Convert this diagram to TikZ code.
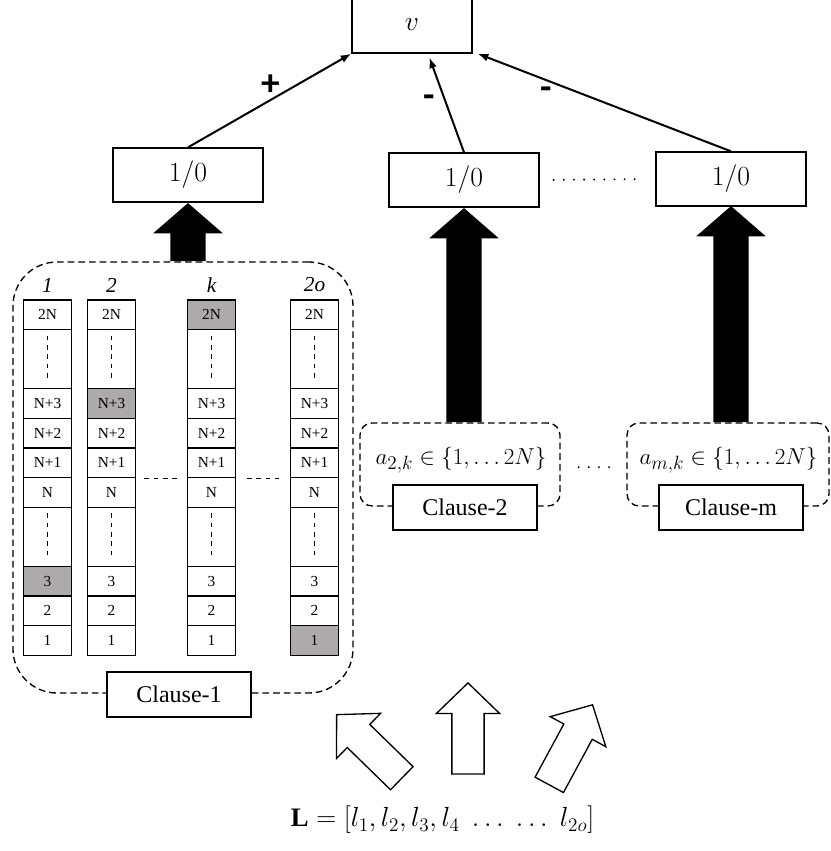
\documentclass[tikz,border=0pt]{standalone}
\usepackage{fontspec}
\setmainfont{Liberation Serif}
\newfontfamily\signfont{Carlito}
\usetikzlibrary{arrows.meta,positioning,shapes.arrows}
\definecolor{cellgray}{RGB}{174,170,170}

\begin{document}
\begin{tikzpicture}[
  x=0.75pt, y=-0.75pt,
  >={Latex[length=8pt,width=6pt]},
  box/.style={draw, line width=1pt, fill=white, minimum width=112.5pt, minimum height=40.5pt, inner sep=0pt, font=\fontsize{20}{24}\selectfont},
  tag/.style={draw, line width=1pt, fill=white, minimum width=108pt, minimum height=33.75pt, inner sep=0pt, font=\fontsize{18}{22}\selectfont},
  cell/.style={draw, line width=0.8pt, minimum width=36.4pt, minimum height=22.2pt, inner sep=0pt, font=\fontsize{11.5}{13}\selectfont},
  hdr/.style={font=\fontsize{16}{19}\selectfont\itshape, inner sep=0pt},
  group/.style={draw, line width=1pt, rounded corners=9pt, dash pattern=on 5pt off 3pt},
  fat/.style={single arrow, fill=black, inner sep=0pt, inner ysep=13.1pt, single arrow head extend=12.75pt, single arrow tip angle=98},
  hollow/.style={single arrow, draw, line width=1pt, fill=white, inner sep=0pt, inner ysep=11.6pt, minimum height=68.25pt, single arrow head extend=11.6pt, single arrow tip angle=92},
  sign/.style={font=\signfont\bfseries\fontsize{28}{32}\selectfont, inner sep=0pt},
  mathlbl/.style={font=\fontsize{19}{23}\selectfont, inner sep=0pt},
  link/.style={->, line width=1.5pt},
  celldash/.style={line width=0.8pt, dash pattern=on 3.5pt off 3.5pt},
  dotrow/.style={line width=1.6pt, line cap=round, dash pattern=on 0pt off 7.6pt},
  thin]

\useasboundingbox (0,0) rectangle (831,851);

\node[box, minimum width=90pt, minimum height=42pt] (v) at (412,25) {$v$};
\node[box] (out1) at (188,175) {$1/0$};
\node[box] (out2) at (464,180) {$1/0$};
\node[box] (outm) at (731,179) {$1/0$};

\draw[dotrow, shorten <=10.5pt, shorten >=10.5pt] (out2.east) -- (outm.west);

\draw[link] (out1.north) -- node[sign, midway, shift={(1,-15)}] {+} (v.south west);
\draw[link, shorten >=3pt] (out2.north) -- node[sign, pos=0.52, shift={(-16,0)}] {-} ([xshift=12pt]v.south);
\draw[link] (outm.north) -- node[sign, pos=0.73, shift={(0,13)}] {-} ([xshift=3.75pt]v.south east);

% Clause-1: columns of literal values
\node[group, rounded corners=33pt, minimum width=255pt, minimum height=323.25pt] (grp1) at (183,477.5) {};

\foreach \c/\x/\g/\h in {a/47.5/8/1, b/111.5/3/2, k/211.5/1/k, o/314.5/10/2o}{
  \node[hdr] (hdr-\c) at (\x,285) {\h};
  \foreach \r/\t/\n/\m in {1/2N/1/0.5, 2//2/2, 3/N+3/1/3.5, 4/N+2/1/4.5, 5/N+1/1/5.5, 6/N/1/6.5, 7//2/8, 8/3/1/9.5, 9/2/1/10.5, 10/1/1/11.5}{
    \ifnum\r=\g \def\cellfill{cellgray}\else\def\cellfill{white}\fi
    \node[cell, fill=\cellfill, minimum height=\n*22.2pt] (c-\c-\r) at (\x,300+\m*29.6) {\t};
  }
  \foreach \r in {2,7}
    \draw[celldash, shorten <=5pt, shorten >=6pt] (c-\c-\r.north) -- (c-\c-\r.south);
}

\draw[celldash, shorten <=6pt, shorten >=7.5pt] (c-b-5.south east) -- (c-k-5.south west);
\draw[celldash, shorten <=8pt, shorten >=8pt] (c-k-5.south east) -- (c-o-5.south west);

\node[tag] (cl1) at (179,694.5) {Clause-1};

% Clause-2 ... Clause-m
\node[group, minimum width=150pt, minimum height=62.25pt] (grp2) at (460,464.5) {};
\node[mathlbl] (a2) at (461,460) {$a_{2,k}\in\{1,\ldots 2N\}$};
\node[tag] (cl2) at (465,507.5) {Clause-2};

\node[group, minimum width=151.5pt, minimum height=62.25pt] (grpm) at (728,464.5) {};
\node[mathlbl] (am) at (728.5,460) {$a_{m,k}\in\{1,\ldots 2N\}$};
\node[tag] (clm) at (731,507.5) {Clause-m};

\draw[dotrow, shorten <=13.5pt, shorten >=12pt] ([yshift=-2pt]grp2.east) -- ([yshift=-2pt]grpm.west);

% fat arrows into the 1/0 boxes
\node[fat, minimum height=43.5pt, rotate=90, anchor=tail] (up1) at (grp1.north -| out1.south) {};
\node[fat, minimum height=160.5pt, rotate=90, anchor=tail] (up2) at (grp2.north -| out2.south) {};
\node[fat, minimum height=162pt, rotate=90, anchor=tail] (upm) at (grpm.north -| outm.south) {};

% input literals
\node[hollow, rotate=135.7, anchor=tip] (in1) at (336,714) {};
\node[hollow, rotate=90, anchor=tip] (in2) at (468,682) {};
\node[hollow, rotate=61.6, anchor=tip] (in3) at (593,704) {};

\node[mathlbl, font=\fontsize{20}{24}\selectfont] (list) at (442.5,820) {$\mathbf{L}=[l_1,l_2,l_3,l_4\;\ldots\;\ldots\;l_{2o}]$};

\end{tikzpicture}
\end{document}
